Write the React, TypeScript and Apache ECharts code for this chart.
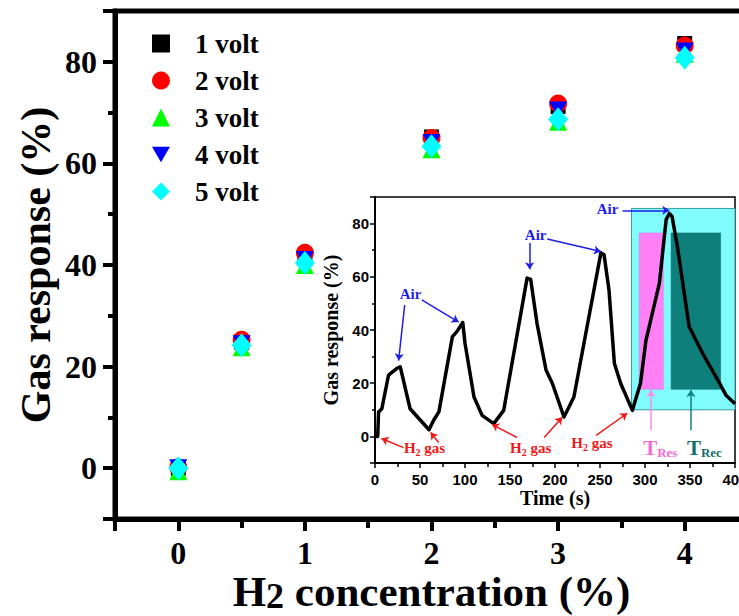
import React, { useEffect, useRef } from 'react';
import * as echarts from 'echarts';

// ---- main plot data ----
const concentrations = [0, 0.5, 1, 2, 3, 4];
const volt1 = [0, 24.8, 41.6, 65.2, 71.2, 83.6];
const volt2 = [0.2, 25.3, 42.4, 65.0, 71.8, 83.2];
const volt3 = [-0.6, 23.8, 40.0, 62.8, 68.2, 81.6];
const volt4 = [0.2, 24.6, 41.2, 64.2, 70.6, 82.2];
const volt5 = [0, 24.2, 40.4, 63.4, 68.7, 80.8];
const seriesNames = ['1 volt', '2 volt', '3 volt', '4 volt', '5 volt'];
const seriesColors = ['#000000', '#ff0000', '#00ff00', '#0000ff', '#00ffff'];

// ---- inset transient data ----
const timeSec = [0, 3, 4, 7.6, 15, 24, 28, 39, 60, 65, 71, 86, 91, 97.5, 100, 110, 119, 132, 143, 169, 173, 180, 190, 197, 210, 221, 251, 254.5, 260, 266, 273, 286, 295, 301, 316, 323.5, 327, 330, 336, 349, 364, 383, 390, 400];
const transientResponse = [0, 0, 9.2, 10.4, 23, 25.5, 26.2, 10.4, 2.5, 6, 9.2, 37.5, 39.4, 42.8, 35, 14.8, 7.9, 4.8, 9.8, 59.5, 59, 42.5, 25, 20, 7.3, 14.8, 69, 68.3, 55, 27.4, 19.9, 9.8, 20, 36, 57.6, 81.5, 83.8, 82.8, 71.4, 41.3, 31.2, 19.9, 15.5, 12.3];

const SERIF = "'Liberation Serif', 'Times New Roman', serif";
const SANS = "'Liberation Sans', Arial, sans-serif";
const BLUE = '#1e1ee6';
const RED = '#f01818';
const PINK = '#f56ad7';
const TEAL = '#127070';

export default function App() {
  const ref = useRef<HTMLDivElement>(null);
  useEffect(() => {
    if (!ref.current) return;
    const chart = echarts.init(ref.current, null, { renderer: 'svg' });
    const volts = [volt1, volt2, volt3, volt4, volt5];
    const symbols = ['rect', 'circle', 'triangle', 'path://M0,0L20,0L10,17Z', 'diamond'];
    const sizes: any[] = [15, 18, 18, [18, 16], [20, 24]];

    const labelBase = { fontFamily: SERIF, fontWeight: 'bold' as const, fontSize: 15 };
    const h2Rich = {
      h: { ...labelBase, color: RED },
      s: { ...labelBase, fontSize: 10, color: RED, padding: [9, 0, 0, 0] },
    };
    const air = (coord: number[]) => ({
      coord,
      label: { formatter: 'Air', color: BLUE, ...labelBase },
    });
    const h2 = (coord: number[]) => ({
      coord,
      label: { formatter: '{h|H}{s|2}{h| gas}', rich: h2Rich },
    });
    const tLabel = (coord: number[], sub: string, color: string) => ({
      coord,
      label: {
        formatter: `{t|T}{s|${sub}}`,
        rich: {
          t: { fontFamily: SERIF, fontWeight: 'bold', fontSize: 21, color },
          s: { fontFamily: SERIF, fontWeight: 'bold', fontSize: 13, color, padding: [10, 0, 0, 0] },
        },
      },
    });
    const arrow = (a: number[], b: number[], color: string) => [
      { coord: a, lineStyle: { color, width: 1.5, type: 'solid' } },
      { coord: b },
    ];

    const option: any = {
      animation: false,
      backgroundColor: '#ffffff',
      legend: {
        data: seriesNames,
        orient: 'vertical',
        left: 147,
        top: 25,
        itemWidth: 18,
        itemHeight: 18,
        itemGap: 10,
        textStyle: { fontFamily: SERIF, fontWeight: 'bold', fontSize: 27, color: '#000', padding: [0, 0, 0, 20] },
      },
      grid: [
        { left: 115, top: 11, width: 633, height: 508, show: true, borderColor: '#000', borderWidth: 5, backgroundColor: 'transparent', outerBoundsMode: 'none', containLabel: false },
        { left: 375, top: 197, width: 360, height: 266, show: true, borderColor: '#000', borderWidth: 1.5, backgroundColor: '#fff', outerBoundsMode: 'none', containLabel: false },
      ],
      xAxis: [
        {
          gridIndex: 0, type: 'value', min: -0.5, max: 4.5, splitNumber: 5,
          axisLine: { show: true, onZero: false, lineStyle: { color: '#000', width: 5, cap: 'round' } },
          axisTick: { show: true, length: 12, lineStyle: { color: '#000', width: 4 } },
          minorTick: { show: true, splitNumber: 2, length: 9, lineStyle: { color: '#000', width: 4 } },
          splitLine: { show: false },
          axisLabel: {
            margin: 20, fontSize: 32, lineHeight: 28, fontWeight: 'bold', fontFamily: SERIF, color: '#000',
            showMinLabel: false, showMaxLabel: false,
            formatter: (v: number) => (Number.isInteger(v) ? String(v) : ''),
          },
          name: '{a|H}{b|2}{a| concentration (%)}',
          nameLocation: 'middle', nameGap: 50, nameMoveOverlap: false,
          nameTextStyle: {
            fontFamily: SERIF, fontWeight: 'bold', fontSize: 43, color: '#000',
            rich: {
              a: { fontFamily: SERIF, fontWeight: 'bold', fontSize: 43, color: '#000' },
              b: { fontFamily: SERIF, fontWeight: 'bold', fontSize: 36, color: '#000', padding: [9, 0, 0, 0] },
            },
          },
        },
        {
          gridIndex: 1, type: 'value', min: 0, max: 400, interval: 50,
          axisLine: { show: true, onZero: false, lineStyle: { color: '#000', width: 2 } },
          axisTick: { show: true, length: 5, lineStyle: { color: '#000', width: 1.5 } },
          minorTick: { show: true, splitNumber: 2, length: 4, lineStyle: { color: '#000', width: 1.5 } },
          splitLine: { show: false },
          axisLabel: { margin: 9, fontSize: 15, fontWeight: 'bold', fontFamily: SANS, color: '#000' },
          name: 'Time (s)', nameLocation: 'middle', nameGap: 25, nameMoveOverlap: false,
          nameTextStyle: { fontFamily: SERIF, fontWeight: 'bold', fontSize: 20, color: '#000' },
        },
      ],
      yAxis: [
        {
          gridIndex: 0, type: 'value', min: -10, max: 90, splitNumber: 5,
          axisLine: { show: true, onZero: false, lineStyle: { color: '#000', width: 5, cap: 'round' } },
          axisTick: { show: true, length: 12, lineStyle: { color: '#000', width: 4 } },
          minorTick: { show: true, splitNumber: 2, length: 7, lineStyle: { color: '#000', width: 4 } },
          splitLine: { show: false },
          axisLabel: {
            margin: 18, fontSize: 32, fontWeight: 'bold', fontFamily: SERIF, color: '#000',
            showMinLabel: false, showMaxLabel: false,
          },
          name: 'Gas response (%)', nameLocation: 'middle', nameGap: 58, nameMoveOverlap: false,
          nameTextStyle: { fontFamily: SERIF, fontWeight: 'bold', fontSize: 42, color: '#000' },
        },
        {
          gridIndex: 1, type: 'value', min: -10, max: 90, splitNumber: 5,
          axisLine: { show: true, onZero: false, lineStyle: { color: '#000', width: 2 } },
          axisTick: { show: true, length: 5, lineStyle: { color: '#000', width: 1.5 } },
          minorTick: { show: true, splitNumber: 2, length: 3, lineStyle: { color: '#000', width: 1.5 } },
          splitLine: { show: false },
          axisLabel: {
            margin: 6, fontSize: 15, fontWeight: 'bold', fontFamily: SANS, color: '#000',
            showMinLabel: false, showMaxLabel: false,
          },
          name: 'Gas response (%)', nameLocation: 'middle', nameGap: 34, nameMoveOverlap: false,
          nameTextStyle: { fontFamily: SERIF, fontWeight: 'bold', fontSize: 20, color: '#000' },
        },
      ],
      series: [
        ...volts.map((vals, i) => ({
          name: seriesNames[i],
          type: 'scatter',
          xAxisIndex: 0, yAxisIndex: 0,
          symbol: symbols[i],
          symbolSize: sizes[i],
          itemStyle: { color: seriesColors[i], opacity: 1 },
          data: concentrations.map((c, j) => [c, vals[j]]),
          z: 2 + i,
        })),
        {
          name: 'regions', type: 'line', xAxisIndex: 1, yAxisIndex: 1, data: [], z: 2,
          markArea: {
            silent: true,
            data: [
              [{ coord: [285, 85.7], itemStyle: { color: '#80fcfc', borderColor: '#3a9f9f', borderWidth: 1 } }, { coord: [400, 10] }],
              [{ coord: [293.6, 76.5], itemStyle: { color: '#ff80f6', borderColor: '#e070e0', borderWidth: 0.5 } }, { coord: [320.3, 17.7] }],
              [{ coord: [329, 76.5], itemStyle: { color: '#0f7f7b', borderColor: '#0a6a6a', borderWidth: 0.5 } }, { coord: [384, 17.7] }],
            ],
          },
        },
        {
          name: 'transient', type: 'line', xAxisIndex: 1, yAxisIndex: 1, z: 4,
          symbol: 'none', smooth: false,
          lineStyle: { color: '#000', width: 3.5, join: 'round' },
          data: timeSec.map((t, i) => [t, transientResponse[i]]),
        },
        {
          name: 'notes', type: 'line', xAxisIndex: 1, yAxisIndex: 1, data: [], z: 6,
          markLine: {
            silent: true,
            symbol: ['none', 'arrow'],
            symbolSize: 7,
            label: { show: false },
            data: [
              arrow([33, 49.4], [26.2, 28.5], BLUE),
              arrow([52, 51.3], [93, 43], BLUE),
              arrow([171.8, 72.7], [171.8, 62.8], BLUE),
              arrow([191.4, 74.2], [251, 69.5], BLUE),
              arrow([275, 85], [327, 85], BLUE),
              arrow([31.7, -4.2], [7.2, -0.8], RED),
              arrow([70.8, -2.3], [61.8, 1.5], RED),
              arrow([157.8, -0.4], [130, 4.5], RED),
              arrow([188, -0.4], [208, 7.2], RED),
              arrow([245.7, 0.4], [280.3, 8.7], RED),
              arrow([306.6, 2.3], [306.6, 17.4], '#ff8ae8'),
              arrow([351, 2.3], [351, 17.4], '#128080'),
            ],
          },
          markPoint: {
            silent: true,
            symbol: 'circle',
            symbolSize: 1,
            itemStyle: { color: 'transparent' },
            label: { show: true, position: 'inside' },
            data: [
              air([39.5, 53.6]),
              air([178.5, 75.8]),
              air([258.3, 85.5]),
              h2([55, -4.5]),
              h2([173, -4.5]),
              h2([241, -2.6]),
              tLabel([317, -4.2], 'Res', PINK),
              tLabel([366, -4.2], 'Rec', TEAL),
            ],
          },
        },
      ],
    };
    chart.setOption(option);
    return () => chart.dispose();
  }, []);
  return (
    <div
      ref={ref}
      style={{ position: 'fixed', left: 0, top: 0, width: 739, height: 616, background: '#fff' }}
    />
  );
}
